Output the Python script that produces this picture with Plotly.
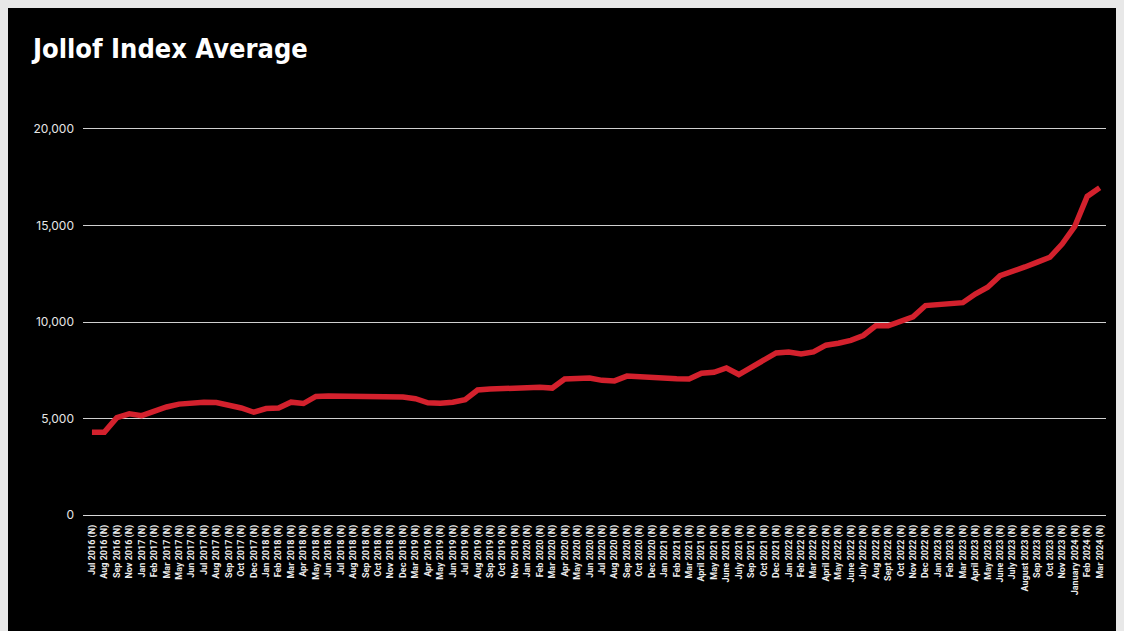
import plotly.graph_objects as go

# ---- data ----
months = [
    "Jul 2016", "Aug 2016", "Sep 2016", "Nov 2016",
    "Jan 2017", "Feb 2017", "Mar 2017", "May 2017", "Jun 2017", "Jul 2017",
    "Aug 2017", "Sep 2017", "Oct 2017", "Dec 2017",
    "Jan 2018", "Feb 2018", "Mar 2018", "Apr 2018", "May 2018", "Jun 2018",
    "Jul 2018", "Aug 2018", "Sep 2018", "Oct 2018", "Nov 2018", "Dec 2018",
    "Mar 2019", "Apr 2019", "May 2019", "Jun 2019", "Jul 2019", "Aug 2019",
    "Sep 2019", "Oct 2019", "Nov 2019",
    "Jan 2020", "Feb 2020", "Mar 2020", "Apr 2020", "May 2020", "Jun 2020",
    "Jul 2020", "Aug 2020", "Sep 2020", "Oct 2020", "Dec 2020",
    "Jan 2021", "Feb 2021", "Mar 2021", "April 2021", "May 2021", "June 2021",
    "July 2021", "Sep 2021", "Oct 2021", "Dec 2021",
    "Jan 2022", "Feb 2022", "Mar 2022", "April 2022", "May 2022", "June 2022",
    "July 2022", "Aug 2022", "Sept 2022", "Oct 2022", "Nov 2022", "Dec 2022",
    "Jan 2023", "Feb 2023", "Mar 2023", "April 2023", "May 2023", "June 2023",
    "July 2023", "August 2023", "Sep 2023", "Oct 2023", "Nov 2023",
    "January 2024", "Feb 2024", "Mar 2024",
]
categories = [m + " (N)" for m in months]

jollof_avg = [
    4300, 4300, 5050, 5250,
    5150, 5400, 5600, 5750, 5820, 5840,
    5830, 5700, 5550, 5330,
    5520, 5550, 5850, 5780, 6150, 6170,
    6160, 6150, 6150, 6150, 6150, 6120,
    6030, 5820, 5800, 5850, 5980, 6480,
    6530, 6560, 6600,
    6640, 6620, 6580, 7050, 7080, 7100,
    6980, 6950, 7200, 7150, 7120,
    7080, 7060, 7050, 7350, 7400, 7620,
    7280, 7650, 8000, 8400,
    8450, 8350, 8450, 8800, 8900, 9050,
    9300, 9800, 9800, 10050, 10270, 10850,
    10900, 10880, 11000, 11450, 11800, 12400,
    12600, 12850, 13100, 13350, 14050,
    14950, 16500, 16950,
]

title_text = "Jollof Index Average"
y_ticks = [0, 5000, 10000, 15000, 20000]

W, H = 1124, 631
L, R, T, B = 75, 26, 115, 118

fig = go.Figure()
fig.add_trace(go.Scatter(
    x=categories, y=jollof_avg, mode="lines",
    line=dict(color="#d3212d", width=5.5),
    hoverinfo="x+y", showlegend=False,
))

fig.update_layout(
    width=W, height=H,
    margin=dict(l=L, r=R, t=T, b=B),
    paper_bgcolor="#000000",
    plot_bgcolor="#000000",
    title=dict(
        text=title_text, xref="container", yref="container",
        x=25 / W, xanchor="left", y=1 - 41 / H, yanchor="middle",
        font=dict(family="DejaVu Sans Condensed, Roboto",
                  size=27, color="#ffffff", weight="bold"),
    ),
    xaxis=dict(
        type="category", range=[-0.72, 81.51],
        showgrid=False, zeroline=False, showline=False,
        tickangle=-90, ticks="", ticklabelstandoff=1,
        tickfont=dict(family="Roboto, Liberation Sans", size=9, color="#ececec", weight="bold"),
        tickmode="array", tickvals=categories, ticktext=categories,
    ),
    yaxis=dict(
        range=[-300, 20300], tickvals=y_ticks, tickformat=",",
        showgrid=True, gridcolor="#d0d0d0", gridwidth=1,
        zeroline=True, zerolinecolor="#d8d8d8", zerolinewidth=1,
        showline=False, ticks="", ticklabelstandoff=8,
        tickfont=dict(family="Inter, Roboto", size=12, color="#e6e6e6"),
    ),
)

fig.write_html(
    "out.html",
    post_script="document.body.style.background='#e8e8e8';",
)
